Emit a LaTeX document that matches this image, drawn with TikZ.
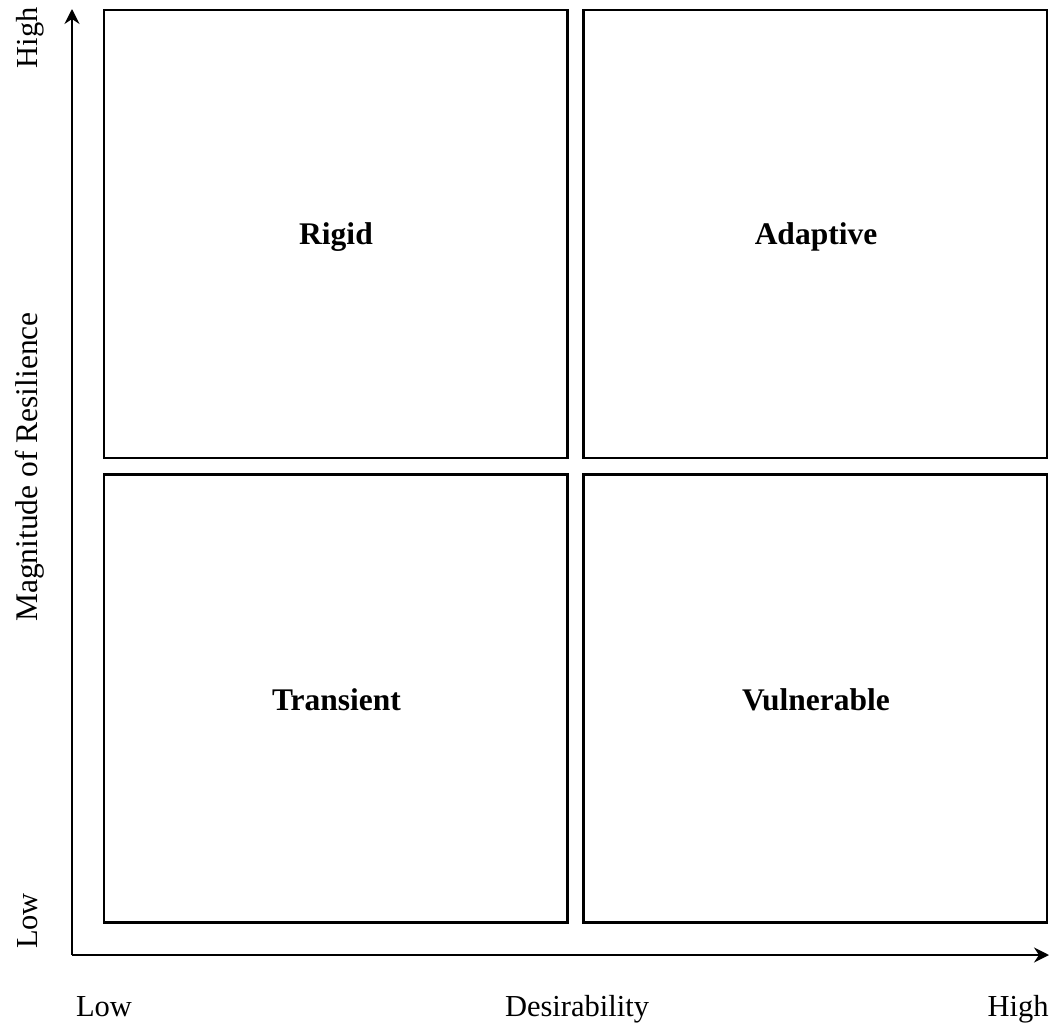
\documentclass[tikz,border=0pt]{standalone}
\usepackage{fontspec}
\setmainfont{Liberation Serif}
\usetikzlibrary{arrows.meta}
\begin{document}
\begin{tikzpicture}[x=1pt,y=-1pt,
  quad/.style={draw=black,line width=2.2pt},
  qlabel/.style={font=\fontsize{31.5}{36}\selectfont\bfseries,anchor=base,inner sep=0pt},
  axislabel/.style={font=\fontsize{30.5}{36}\selectfont,anchor=base,inner sep=0pt},
  axis/.style={line width=2.2pt,-{Stealth[length=15pt,width=15pt,inset=5pt]}}]
  \useasboundingbox (0,0) rectangle (1058,1027);
  % four quadrants
  \draw[quad] (104,10) rectangle (567.5,458);
  \draw[quad] (583.5,10) rectangle (1047,458);
  \draw[quad] (104,474.5) rectangle (567.5,922.5);
  \draw[quad] (583.5,474.5) rectangle (1047,922.5);
  \node[qlabel] (rigid) at (336,245) {Rigid};
  \node[qlabel] (adaptive) at (816,245) {Adaptive};
  \node[qlabel] (transient) at (336.5,710) {Transient};
  \node[qlabel] (vulnerable) at (816,710) {Vulnerable};
  % axes
  \coordinate (origin) at (72,955);
  \coordinate (ytip) at (72,9);
  \coordinate (xtip) at (1049,955);
  \draw[axis] (origin) -- (ytip);
  \draw[axis] (origin) -- (xtip);
  % vertical axis labels
  \node[axislabel,rotate=90] (yhigh) at (37,38) {High};
  \node[axislabel,rotate=90] (ylow) at (37,921) {Low};
  \node[axislabel,rotate=90,font=\fontsize{31.5}{36}\selectfont] (ytitle) at (37,467) {Magnitude of Resilience};
  % horizontal axis labels
  \node[axislabel] (xlow) at (104,1016) {Low};
  \node[axislabel] (xtitle) at (577,1016) {Desirability};
  \node[axislabel] (xhigh) at (1018,1016) {High};
\end{tikzpicture}
\end{document}
